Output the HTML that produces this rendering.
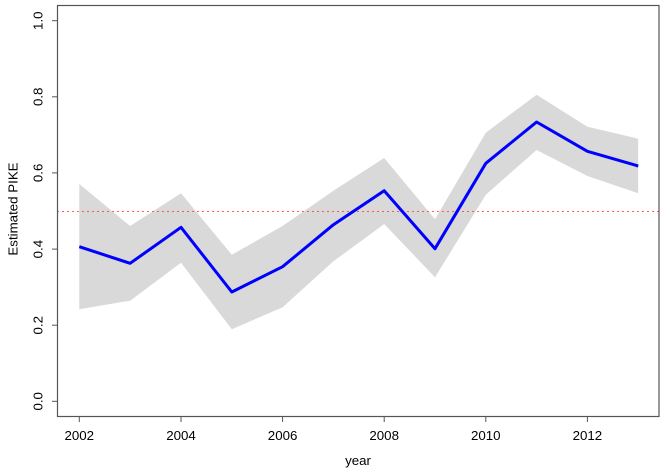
<!DOCTYPE html>
<html>
<head>
<meta charset="utf-8">
<style>
html,body{margin:0;padding:0;background:#fff;}
svg{display:block;}
text{font-family:"Liberation Sans",Arial,sans-serif;font-size:13.3px;fill:#000;}
</style>
</head>
<body>
<svg width="666" height="470" viewBox="0 0 666 470" xmlns="http://www.w3.org/2000/svg">
  <!-- confidence band -->
  <polygon fill="#d9d9d9" points="
    79.3,184 130.1,226 181,193.3 231.8,254.7 282.6,226 333.4,190.7 384.2,158 435,219.3 485.8,132.7 536.6,94.7 587.4,126.7 638.2,138.7
    638.2,193.3 587.4,176 536.6,150 485.8,194.7 435,277.3 384.2,224 333.4,261.3 282.6,307.3 231.8,329.3 181,262.7 130.1,300.7 79.3,309.3"/>
  <!-- reference line at 0.5 -->
  <line x1="57" y1="211.5" x2="659" y2="211.5" stroke="#ff4040" stroke-opacity="0.85" stroke-width="1" stroke-dasharray="2,3"/>
  <!-- estimate line -->
  <polyline fill="none" stroke="#0000ff" stroke-width="3" stroke-linejoin="round" points="
    79.3,246.7 130.1,263.3 181,227.3 231.8,292 282.6,266.7 333.4,224.7 384.2,190.7 435,248.7 485.8,163.3 536.6,122 587.4,151.3 638.2,166"/>
  <!-- plot box -->
  <rect x="57.5" y="5.5" width="601.5" height="411" fill="none" stroke="#555" stroke-width="1.2"/>
  <!-- y ticks -->
  <g stroke="#555" stroke-width="1">
    <line x1="52" y1="401.3" x2="57" y2="401.3"/>
    <line x1="52" y1="325.2" x2="57" y2="325.2"/>
    <line x1="52" y1="249.1" x2="57" y2="249.1"/>
    <line x1="52" y1="172.9" x2="57" y2="172.9"/>
    <line x1="52" y1="96.8" x2="57" y2="96.8"/>
    <line x1="52" y1="20.7" x2="57" y2="20.7"/>
  </g>
  <!-- x ticks -->
  <g stroke="#555" stroke-width="1">
    <line x1="79.3" y1="417" x2="79.3" y2="422"/>
    <line x1="181" y1="417" x2="181" y2="422"/>
    <line x1="282.6" y1="417" x2="282.6" y2="422"/>
    <line x1="384.2" y1="417" x2="384.2" y2="422"/>
    <line x1="485.8" y1="417" x2="485.8" y2="422"/>
    <line x1="587.4" y1="417" x2="587.4" y2="422"/>
  </g>
  <!-- y tick labels -->
  <g text-anchor="middle">
    <text transform="translate(42.5,401.3) rotate(-90)">0.0</text>
    <text transform="translate(42.5,325.2) rotate(-90)">0.2</text>
    <text transform="translate(42.5,249.1) rotate(-90)">0.4</text>
    <text transform="translate(42.5,172.9) rotate(-90)">0.6</text>
    <text transform="translate(42.5,96.8) rotate(-90)">0.8</text>
    <text transform="translate(42.5,20.7) rotate(-90)">1.0</text>
  </g>
  <!-- x tick labels -->
  <g text-anchor="middle">
    <text x="79.3" y="440">2002</text>
    <text x="181" y="440">2004</text>
    <text x="282.6" y="440">2006</text>
    <text x="384.2" y="440">2008</text>
    <text x="485.8" y="440">2010</text>
    <text x="587.4" y="440">2012</text>
  </g>
  <!-- axis titles -->
  <text x="358" y="465" text-anchor="middle">year</text>
  <text transform="translate(17.5,209) rotate(-90)" text-anchor="middle">Estimated PIKE</text>
</svg>
</body>
</html>
